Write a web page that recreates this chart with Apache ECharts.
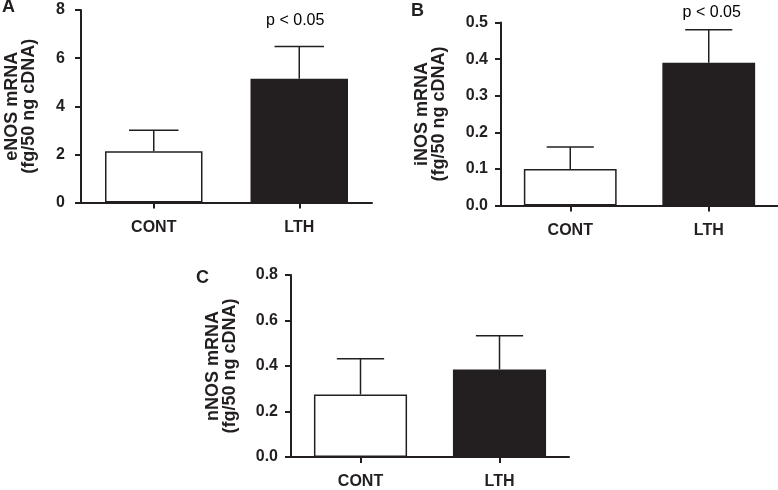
<!DOCTYPE html>
<html>
<head>
<meta charset="utf-8">
<script src="https://cdn.jsdelivr.net/npm/echarts@6/dist/echarts.min.js"></script>
<style>
  html, body { margin: 0; padding: 0; background: #fff; }
  #chart { width: 778px; height: 490px; }
</style>
</head>
<body>
<div id="chart"></div>
<script>
// ---- data ----
const categories = ['CONT', 'LTH'];

const eNOSMean = [2.13, 5.14];
const eNOSUpper = [3.0, 6.48];

const iNOSMean = [0.10, 0.39];
const iNOSUpper = [0.16, 0.48];

const nNOSMean = [0.275, 0.385];
const nNOSUpper = [0.432, 0.533];

const yTicksA = [0, 2, 4, 6, 8];
const yTicksB = [0.0, 0.1, 0.2, 0.3, 0.4, 0.5];
const yTicksC = [0.0, 0.2, 0.4, 0.6, 0.8];

const yTitlesA = ['eNOS mRNA', '(fg/50 ng cDNA)'];
const yTitlesB = ['iNOS mRNA', '(fg/50 ng cDNA)'];
const yTitlesC = ['nNOS mRNA', '(fg/50 ng cDNA)'];

const panelLetters = ['A', 'B', 'C'];
const pText = 'p < 0.05';
const pValueA = 7.54;   // vertical position of annotation in data units
const pValueB = 0.528;

// ---- styling ----
const INK = '#231f20';
const FONT = "'Liberation Sans', Arial, sans-serif";
const barColors = ['#ffffff', INK];

const chart = echarts.init(document.getElementById('chart'), null, { renderer: 'canvas' });

function xAxisCfg(gi) {
  return {
    type: 'category', gridIndex: gi, data: categories,
    axisLine: { lineStyle: { color: INK, width: 2 } },
    axisTick: { show: true, alignWithLabel: true, length: 6, lineStyle: { color: INK, width: 2 } },
    axisLabel: { color: INK, fontFamily: FONT, fontWeight: 'bold', fontSize: 16, margin: 17 }
  };
}
function yAxisCfg(gi, ticks, titles, decimals, labelMargin, nameGap) {
  const interval = ticks[1] - ticks[0];
  return {
    type: 'value', gridIndex: gi,
    min: ticks[0], max: ticks[ticks.length - 1], interval: interval,
    splitLine: { show: false },
    axisLine: { show: true, lineStyle: { color: INK, width: 2 } },
    axisTick: { show: true, length: 6, lineStyle: { color: INK, width: 2 } },
    axisLabel: {
      color: INK, fontFamily: FONT, fontWeight: 'bold', fontSize: 16, margin: labelMargin,
      formatter: v => v.toFixed(decimals)
    },
    name: titles.join('\n'),
    nameLocation: 'middle',
    nameRotate: 90,
    nameGap: nameGap,
    nameTextStyle: { color: INK, fontFamily: FONT, fontWeight: 'bold', fontSize: 18, lineHeight: 17 }
  };
}
function barSeries(idx, means) {
  return {
    type: 'bar', xAxisIndex: idx, yAxisIndex: idx,
    barCategoryGap: '33%',
    data: means.map((v, i) => ({ value: v, itemStyle: { color: barColors[i] } })),
    itemStyle: { borderColor: INK, borderWidth: 1.5 },
    emphasis: { disabled: true },
    z: 2
  };
}
function errSeries(idx, means, uppers) {
  return {
    type: 'custom', xAxisIndex: idx, yAxisIndex: idx,
    data: means.map((m, i) => [i, m, uppers[i]]),
    renderItem: function (params, api) {
      const base = api.coord([api.value(0), api.value(1)]);
      const top = api.coord([api.value(0), api.value(2)]);
      const half = api.size([1, 0])[0] * 0.17;
      const style = { stroke: INK, lineWidth: 1.5, fill: null };
      return {
        type: 'group',
        children: [
          { type: 'line', shape: { x1: base[0], y1: base[1], x2: top[0], y2: top[1] }, style: style },
          { type: 'line', shape: { x1: top[0] - half, y1: top[1], x2: top[0] + half, y2: top[1] }, style: style }
        ]
      };
    },
    z: 1
  };
}
function pSeries(idx, yVal, dx) {
  return {
    type: 'scatter', xAxisIndex: idx, yAxisIndex: idx,
    clip: false, symbolSize: 1, itemStyle: { color: '#ffffff', opacity: 1 },
    data: [[1, yVal]],
    label: {
      show: true, position: 'inside', formatter: pText, offset: [dx, 0], opacity: 1,
      color: '#000000', fontFamily: FONT, fontSize: 16, fontWeight: 'normal'
    },
    emphasis: { disabled: true },
    silent: true, z: 3
  };
}

const option = {
  backgroundColor: '#ffffff',
  animation: false,
  grid: [
    { left: 81, top: 10, width: 291, height: 192.5 },
    { left: 501, top: 22.5, width: 277, height: 183 },
    { left: 291, top: 275, width: 278, height: 185 }
  ],
  xAxis: [xAxisCfg(0), xAxisCfg(1), xAxisCfg(2)],
  yAxis: [
    yAxisCfg(0, yTicksA, yTitlesA, 0, 16, 43),
    yAxisCfg(1, yTicksB, yTitlesB, 1, 13, 53),
    yAxisCfg(2, yTicksC, yTitlesC, 1, 13, 52)
  ],
  graphic: [
    { type: 'text', left: 2, top: -2, style: { text: panelLetters[0], fill: INK, font: "bold 18px 'Liberation Sans', Arial" } },
    { type: 'text', left: 411, top: 2, style: { text: panelLetters[1], fill: INK, font: "bold 18px 'Liberation Sans', Arial" } },
    { type: 'text', left: 196, top: 269, style: { text: panelLetters[2], fill: INK, font: "bold 18px 'Liberation Sans', Arial" } }
  ],
  series: [
    errSeries(0, eNOSMean, eNOSUpper), barSeries(0, eNOSMean), pSeries(0, pValueA, -4),
    errSeries(1, iNOSMean, iNOSUpper), barSeries(1, iNOSMean), pSeries(1, pValueB, 3),
    errSeries(2, nNOSMean, nNOSUpper), barSeries(2, nNOSMean)
  ]
};
chart.setOption(option);
</script>
</body>
</html>
